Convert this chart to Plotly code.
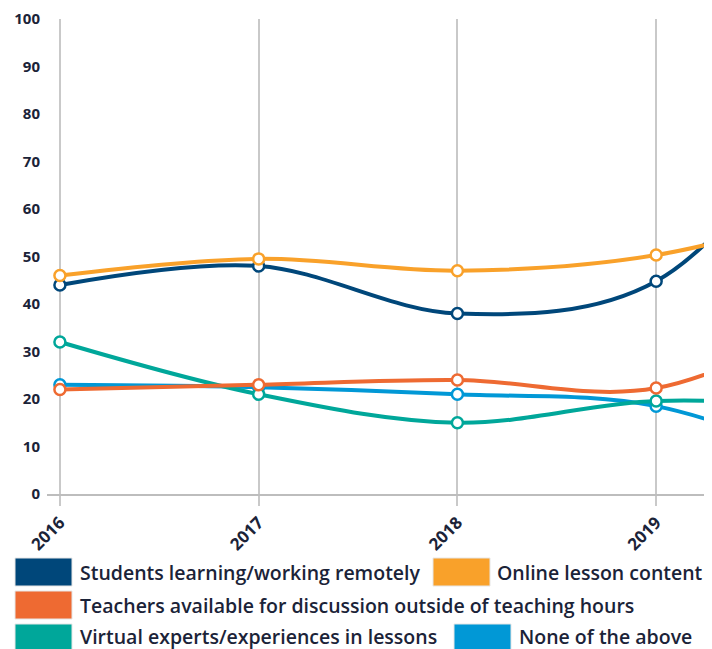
import plotly.graph_objects as go

years = [2016, 2017, 2018, 2019, 2020]
series_names = [
    "Students learning/working remotely",
    "Online lesson content",
    "Teachers available for discussion outside of teaching hours",
    "Virtual experts/experiences in lessons",
    "None of the above",
]
students_remote = [44, 48, 38, 44.8, 92]
online_content = [46, 49.5, 47, 50.3, 61]
teachers_available = [22, 23, 24, 22.3, 40]
virtual_experts = [32, 21, 15, 19.6, 18]
none_above = [23, 22.5, 21, 18.5, 4]
colors = ["#00477a", "#f9a12a", "#ee6a32", "#00a79a", "#0198d6"]
y_ticks = [0, 10, 20, 30, 40, 50, 60, 70, 80, 90, 100]

all_values = [students_remote, online_content, teachers_available, virtual_experts, none_above]
order = [4, 3, 2, 0, 1]

fig = go.Figure()
for i in order:
    fig.add_trace(go.Scatter(
        x=years, y=all_values[i], name=series_names[i],
        mode="lines+markers",
        line=dict(color=colors[i], width=4, shape="spline", smoothing=1),
        marker=dict(size=11, color="white", line=dict(color=colors[i], width=2.5)),
        showlegend=False,
    ))

txt_color = "#1b2338"
font_family = "Open Sans, sans-serif"

# page body has an 8px margin; figure coordinates are offset by it
OFF = 8
W, H = 704, 641
ml, mt, mr = 47 - OFF, 19 - OFF, 0
mb = H - (494 - OFF)

fig.update_layout(
    width=W, height=H,
    margin=dict(l=ml, r=mr, t=mt, b=mb, autoexpand=False),
    paper_bgcolor="white", plot_bgcolor="white",
    xaxis=dict(
        range=[2015.935, 2019.281], tickvals=years[:4], ticktext=[str(y) for y in years[:4]],
        tickangle=-45, showgrid=True, gridcolor="#c9c9c9", gridwidth=1.5,
        ticks="outside", ticklen=10, tickcolor="#c9c9c9", tickwidth=1.5,
        showline=True, linecolor="#bdbdbd", linewidth=2, zeroline=False,
        tickfont=dict(family=font_family, size=17, color=txt_color, weight=700),
        automargin=False,
    ),
    yaxis=dict(
        range=[0, 100], tickvals=y_ticks, showgrid=False, zeroline=False,
        showline=False, ticks="", ticklabelstandoff=6,
        tickfont=dict(family=font_family, size=15, color=txt_color, weight=700),
        automargin=False,
    ),
)

plot_l, plot_t = ml, mt
plot_w, plot_h = W - ml - mr, H - mt - mb
def pxx(x):
    return (x - OFF - plot_l) / plot_w
def pxy(y):
    return (plot_t + plot_h - (y - OFF)) / plot_h

legend_rows = [
    [(0, 15, 80), (1, 433, 497)],
    [(2, 15, 80)],
    [(3, 15, 80), (4, 454, 519)],
]
rect_centers = [572, 605, 638]
text_centers = [572, 605, 636]
for r, items in enumerate(legend_rows):
    cy = rect_centers[r]
    ty = text_centers[r]
    for idx, rx, tx in items:
        fig.add_shape(type="rect", xref="paper", yref="paper",
                      x0=pxx(rx), x1=pxx(rx + 57),
                      y0=pxy(cy + 14), y1=pxy(cy - 14),
                      fillcolor=colors[idx], line=dict(width=1, color="#e6e6e6"))
        fig.add_annotation(xref="paper", yref="paper", x=pxx(tx - 2), y=pxy(ty),
                           xanchor="left", yanchor="middle", showarrow=False,
                           text=series_names[idx],
                           font=dict(family=font_family, size=19.5, color=txt_color, weight=600))

fig.write_html("out.html")
